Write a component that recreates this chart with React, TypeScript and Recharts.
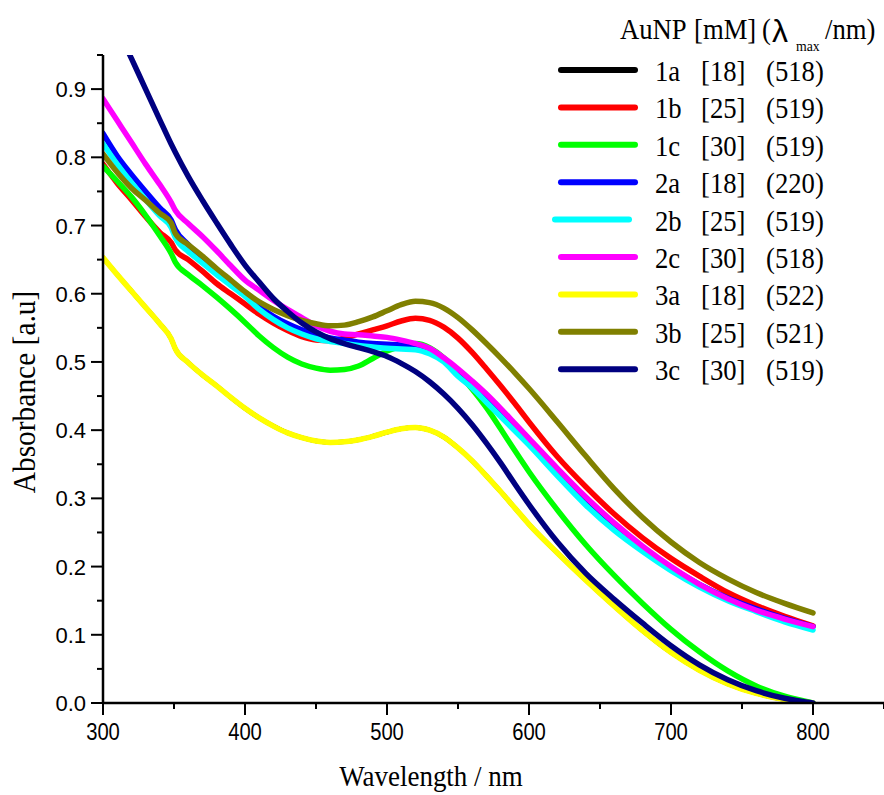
import React from 'react';
import { LineChart, Line, XAxis, YAxis, Customized } from 'recharts';

const wavelength = [300, 310, 320, 330, 340, 348, 351, 360, 370, 380, 390, 400, 410, 420, 430, 440, 450, 460, 470, 480, 490, 500, 510, 520, 530, 540, 550, 560, 570, 580, 590, 600, 620, 640, 660, 680, 700, 720, 740, 760, 780, 800];

const s1a = [0.653, 0.628, 0.604, 0.58, 0.556, 0.534, 0.519, 0.499, 0.481, 0.465, 0.448, 0.432, 0.418, 0.406, 0.396, 0.389, 0.384, 0.382, 0.383, 0.386, 0.391, 0.397, 0.402, 0.404, 0.4, 0.39, 0.374, 0.355, 0.333, 0.31, 0.286, 0.262, 0.22, 0.18, 0.142, 0.106, 0.074, 0.048, 0.028, 0.014, 0.005, 0.0];
const s1b = [0.79, 0.762, 0.738, 0.713, 0.69, 0.675, 0.664, 0.65, 0.633, 0.615, 0.6, 0.585, 0.57, 0.557, 0.546, 0.537, 0.532, 0.531, 0.535, 0.541, 0.547, 0.553, 0.56, 0.564, 0.561, 0.551, 0.535, 0.514, 0.49, 0.465, 0.439, 0.412, 0.361, 0.317, 0.277, 0.242, 0.212, 0.186, 0.162, 0.143, 0.127, 0.113];
const s1c = [0.787, 0.765, 0.742, 0.715, 0.685, 0.659, 0.646, 0.628, 0.612, 0.595, 0.577, 0.558, 0.538, 0.521, 0.507, 0.497, 0.491, 0.488, 0.489, 0.494, 0.505, 0.516, 0.523, 0.527, 0.521, 0.506, 0.484, 0.46, 0.433, 0.402, 0.37, 0.339, 0.283, 0.232, 0.187, 0.146, 0.108, 0.075, 0.047, 0.025, 0.01, 0.0];
const s2a = [0.835, 0.802, 0.775, 0.75, 0.726, 0.708, 0.694, 0.672, 0.652, 0.633, 0.615, 0.598, 0.581, 0.567, 0.556, 0.547, 0.54, 0.535, 0.532, 0.529, 0.527, 0.526, 0.525, 0.523, 0.516, 0.504, 0.486, 0.466, 0.445, 0.424, 0.403, 0.382, 0.338, 0.295, 0.258, 0.226, 0.198, 0.174, 0.154, 0.138, 0.124, 0.112];
const s2b = [0.82, 0.79, 0.763, 0.738, 0.714, 0.697, 0.682, 0.662, 0.645, 0.628, 0.612, 0.596, 0.577, 0.562, 0.55, 0.541, 0.534, 0.53, 0.527, 0.524, 0.522, 0.52, 0.519, 0.518, 0.512, 0.5, 0.479, 0.462, 0.441, 0.42, 0.399, 0.378, 0.333, 0.29, 0.253, 0.222, 0.194, 0.17, 0.15, 0.134, 0.119, 0.107];
const s2c = [0.886, 0.854, 0.822, 0.79, 0.76, 0.734, 0.722, 0.703, 0.684, 0.663, 0.641, 0.62, 0.605, 0.59, 0.577, 0.565, 0.553, 0.545, 0.541, 0.54, 0.538, 0.536, 0.532, 0.527, 0.52, 0.506, 0.49, 0.472, 0.453, 0.432, 0.41, 0.388, 0.344, 0.302, 0.264, 0.23, 0.2, 0.174, 0.153, 0.136, 0.123, 0.112];
const s3a = [0.653, 0.628, 0.604, 0.58, 0.556, 0.534, 0.519, 0.499, 0.481, 0.465, 0.448, 0.432, 0.418, 0.406, 0.396, 0.389, 0.384, 0.382, 0.383, 0.386, 0.391, 0.397, 0.402, 0.404, 0.4, 0.39, 0.374, 0.355, 0.333, 0.31, 0.286, 0.262, 0.22, 0.18, 0.142, 0.106, 0.074, 0.048, 0.028, 0.014, 0.005, 0.0];
const s3b = [0.805, 0.778, 0.755, 0.737, 0.718, 0.704, 0.688, 0.672, 0.655, 0.637, 0.62, 0.603, 0.588, 0.577, 0.568, 0.561, 0.556, 0.553, 0.554, 0.559, 0.566, 0.575, 0.584, 0.589, 0.587, 0.579, 0.565, 0.547, 0.527, 0.506, 0.484, 0.461, 0.412, 0.362, 0.314, 0.272, 0.236, 0.206, 0.182, 0.162, 0.146, 0.132];
const s3c = [1.04, 0.99, 0.945, 0.9, 0.855, 0.8195, 0.807, 0.772, 0.737, 0.704, 0.672, 0.642, 0.617, 0.593, 0.574, 0.557, 0.544, 0.534, 0.527, 0.521, 0.515, 0.508, 0.498, 0.486, 0.471, 0.453, 0.432, 0.408, 0.381, 0.352, 0.321, 0.291, 0.236, 0.19, 0.152, 0.117, 0.084, 0.056, 0.034, 0.018, 0.007, 0.0];

const seriesKeys = ['s1a', 's1b', 's1c', 's2a', 's2b', 's2c', 's3a', 's3b', 's3c'];
const seriesValues = [s1a, s1b, s1c, s2a, s2b, s2c, s3a, s3b, s3c];
const seriesNames = ['1a', '1b', '1c', '2a', '2b', '2c', '3a', '3b', '3c'];
const seriesConc = ['[18]', '[25]', '[30]', '[18]', '[25]', '[30]', '[18]', '[25]', '[30]'];
const seriesLambda = ['(518)', '(519)', '(519)', '(220)', '(519)', '(518)', '(522)', '(521)', '(519)'];
const seriesColors = ['#000000', '#FF0000', '#00FF00', '#0000FF', '#00FFFF', '#FF00FF', '#FFFF00', '#808000', '#000080'];

const xTicks = [300, 350, 400, 450, 500, 550, 600, 650, 700, 750, 800, 850];
const yTicks = [0, 0.05, 0.1, 0.15, 0.2, 0.25, 0.3, 0.35, 0.4, 0.45, 0.5, 0.55, 0.6, 0.65, 0.7, 0.75, 0.8, 0.85, 0.9, 0.95];

const data = wavelength.map((wl, i) => {
  const row: any = { wl };
  seriesKeys.forEach((k, j) => { row[k] = seriesValues[j][i]; });
  return row;
});

const SANS = 'Liberation Sans, Arial, sans-serif';
const SERIF = 'Liberation Serif, Times New Roman, serif';

function XTick(props: any) {
  const { x, y, payload } = props;
  const v = payload.value;
  const major = v % 100 === 0;
  return (
    <g>
      <line x1={x} x2={x} y1={y} y2={y + (major ? 12 : 6)} stroke="#000" strokeWidth={2} />
      {major && v <= 800 ? (
        <text transform={`translate(${x},${y + 37}) scale(0.92,1.12)`} textAnchor="middle" fontFamily={SANS} fontSize={22} fill="#000">{v}</text>
      ) : null}
    </g>
  );
}

function YTick(props: any) {
  const { x, y, payload } = props;
  const v = payload.value;
  const major = Math.round(v * 100) % 10 === 0;
  return (
    <g>
      <line x1={x} x2={x - (major ? 12 : 6)} y1={y} y2={y} stroke="#000" strokeWidth={2} />
      {major ? (
        <text x={x - 17} y={y + 8} textAnchor="end" fontFamily={SANS} fontSize={22} fill="#000">{v.toFixed(1)}</text>
      ) : null}
    </g>
  );
}

function Decorations() {
  const rows = seriesNames.map((n, i) => {
    const cy = 70 + i * 37.4;
    const x0 = i === 4 ? 555 : 561;
    return (
      <g key={n}>
        <line x1={x0} x2={x0 + 74} y1={cy} y2={cy} stroke={seriesColors[i]} strokeWidth={6} strokeLinecap="round" />
        <text transform={`translate(655,${cy + 11}) scale(0.92,1)`} fontFamily={SERIF} fontSize={29} fill="#000">{n}</text>
        <text transform={`translate(701,${cy + 11}) scale(0.92,1)`} fontFamily={SERIF} fontSize={29} fill="#000">{seriesConc[i]}</text>
        <text transform={`translate(766,${cy + 11}) scale(0.92,1)`} fontFamily={SERIF} fontSize={29} fill="#000">{seriesLambda[i]}</text>
      </g>
    );
  });
  return (
    <g>
      <text transform="translate(620,39) scale(0.92,1)" fontFamily={SERIF} fontSize={29} fill="#000">AuNP</text>
      <text transform="translate(694,39) scale(0.92,1)" fontFamily={SERIF} fontSize={29} fill="#000">[mM]</text>
      <text transform="translate(762,39) scale(0.92,1)" fontFamily={SERIF} fontSize={29} fill="#000">(</text>
      <text transform="translate(772,42)" fontFamily={SANS} fontSize={32} fill="#000">λ</text>
      <text transform="translate(796,51) scale(0.92,1)" fontFamily={SERIF} fontSize={15} fill="#000">max</text>
      <text transform="translate(825,39) scale(0.92,1)" fontFamily={SERIF} fontSize={29} fill="#000">/nm)</text>
      {rows}
      <text transform="translate(431,786) scale(0.93,1)" textAnchor="middle" fontFamily={SERIF} fontSize={29} fill="#000">Wavelength / nm</text>
      <text transform="translate(35,392) rotate(-90) scale(0.95,1)" textAnchor="middle" fontFamily={SERIF} fontSize={31} fill="#000">Absorbance [a.u]</text>
    </g>
  );
}

export default function App() {
  return (
    <div style={{ position: 'absolute', left: 0, top: 0, width: 884, height: 795, background: '#fff' }}>
      <LineChart width={884} height={795} data={data} margin={{ top: 55, right: 0, bottom: 0, left: 0 }}>
        <XAxis
          dataKey="wl"
          type="number"
          domain={[300, 850]}
          ticks={xTicks}
          interval={0}
          height={92}
          tickLine={false}
          tickSize={0}
          tickMargin={0}
          tick={<XTick />}
          axisLine={{ stroke: '#000', strokeWidth: 2.5 }}
          allowDataOverflow
        />
        <YAxis
          type="number"
          domain={[0, 0.95]}
          ticks={yTicks}
          interval={0}
          width={103}
          tickLine={false}
          tickSize={0}
          tickMargin={0}
          tick={<YTick />}
          axisLine={{ stroke: '#000', strokeWidth: 2.5 }}
          allowDataOverflow
        />
        {seriesKeys.map((k, j) => (
          <Line
            key={k}
            dataKey={k}
            type="monotone"
            stroke={seriesColors[j]}
            strokeWidth={j === 0 ? 4.5 : 5.5}
            strokeLinecap="round"
            strokeLinejoin="round"
            dot={false}
            activeDot={false}
            isAnimationActive={false}
          />
        ))}
        <Customized component={Decorations} />
      </LineChart>
    </div>
  );
}
